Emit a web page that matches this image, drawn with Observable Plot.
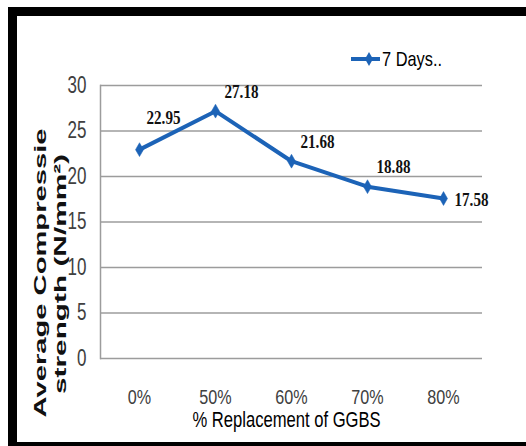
<!DOCTYPE html>
<html>
<head>
<meta charset="utf-8">
<script src="https://cdn.jsdelivr.net/npm/d3@7"></script>
<script src="https://cdn.jsdelivr.net/npm/@observablehq/plot@0.6"></script>
<style>
  html, body { margin: 0; padding: 0; background: #fff; overflow: hidden; }
  #wrap { position: relative; width: 526px; height: 446px; overflow: hidden; background: #fff; }
  #frame { position: absolute; left: 8px; top: 7px; width: 700px; height: 426px;
           border-left: 9px solid #000; border-top: 9px solid #000; border-bottom: 9px solid #000; }
  #chart { position: absolute; left: 0; top: 0; }
  #legend { position: absolute; left: 348px; top: 46px; }
</style>
</head>
<body>
<div id="wrap">
  <div id="frame"></div>
  <div id="chart"></div>
  <div id="legend"></div>
</div>
<script>
// ---- data ----
const categories = ["0%", "50%", "60%", "70%", "80%"];
const strength = [22.95, 27.18, 21.68, 18.88, 17.58];
const yTicks = [0, 5, 10, 15, 20, 25, 30];
const seriesName = "7 Days..";
const yTitleLines = ["Average Compressie", "strength (N/mm²)"];
const xTitle = "% Replacement of GGBS";

const data = categories.map((c, i) => ({cat: c, value: strength[i], label: strength[i].toFixed(2), i}));
const blue = "#1c63b7";
const sans = "'Liberation Sans', Arial, sans-serif";
const serif = "'Liberation Serif', 'Times New Roman', serif";

const chart = Plot.plot({
  width: 526,
  height: 446,
  marginLeft: 100,
  marginRight: 44,
  marginTop: 85,
  marginBottom: 88,
  style: {background: "transparent", fontFamily: sans, overflow: "visible"},
  x: {type: "point", domain: categories, padding: 0.5},
  y: {domain: [0, 30]},
  marks: [
    Plot.ruleY(yTicks, {stroke: "#9c9c9c", strokeWidth: 1.5}),
    Plot.frame({anchor: "left", stroke: "#9c9c9c", strokeWidth: 1.5}),
    Plot.axisY({ticks: yTicks, tickSize: 0, tickPadding: 14, fontSize: 23, fill: "#404040", label: null, className: "yticks"}),
    Plot.axisX({tickSize: 0, tickPadding: 31, fontSize: 21, fill: "#404040", label: null, className: "xticks"}),
    Plot.line(data, {x: "cat", y: "value", stroke: blue, strokeWidth: 4}),
    Plot.dot(data, {x: "cat", y: "value", symbol: "diamond", r: 4.2, fill: blue, stroke: blue, strokeWidth: 0.5}),
    Plot.text(data.filter(d => d.i === 0), {x: "cat", y: "value", text: "label", textAnchor: "start", dx: 7, dy: -31,
      fontFamily: serif, fontSize: 18, fontWeight: "bold", fill: "#111", className: "vlabels"}),
    Plot.text(data.filter(d => d.i > 0 && d.i < 4), {x: "cat", y: "value", text: "label", textAnchor: "start", dx: 9, dy: -19,
      fontFamily: serif, fontSize: 18, fontWeight: "bold", fill: "#111", className: "vlabels"}),
    Plot.text(data.filter(d => d.i === 4), {x: "cat", y: "value", text: "label", textAnchor: "start", dx: 11, dy: 2,
      fontFamily: serif, fontSize: 18, fontWeight: "bold", fill: "#111", className: "vlabels"}),
    Plot.text([yTitleLines[0]], {frameAnchor: "left", textAnchor: "middle", dx: -60, dy: 51, rotate: -90, fontFamily: sans,
      fontSize: 17, fontWeight: "bold", fill: "#111", className: "ytitle1"}),
    Plot.text([yTitleLines[1]], {frameAnchor: "left", textAnchor: "middle", dx: -40, dy: 52, rotate: -90, fontFamily: sans,
      fontSize: 17, fontWeight: "bold", fill: "#111", className: "ytitle2"}),
    Plot.text([xTitle], {frameAnchor: "bottom", textAnchor: "middle", dx: -5, dy: 68, fontSize: 22, fill: "#000", className: "xtitle"})
  ]
});
document.getElementById("chart").appendChild(chart);

// horizontal squeeze along each text's baseline, keeping its anchor in place
function squeeze(selection, k) {
  selection.each(function () {
    const kk = typeof k === "function" ? k(this) : k;
    const tr = this.getAttribute("transform") || "";
    this.setAttribute("transform", `${tr} scale(${kk},1)`);
  });
}
const svg = d3.select(chart);
squeeze(svg.selectAll(".vlabels text"), 0.84);
squeeze(svg.selectAll(".yticks text"), 0.74);
squeeze(svg.selectAll(".xticks text"), 0.77);
squeeze(svg.selectAll(".xtitle text"), 0.755);
squeeze(svg.selectAll(".ytitle1 text"), el => 289 / el.getComputedTextLength());
squeeze(svg.selectAll(".ytitle2 text"), el => 240 / el.getComputedTextLength());

// ---- legend ----
const leg = d3.select("#legend").append("svg").attr("width", 110).attr("height", 30);
leg.append("line").attr("x1", 3).attr("x2", 32).attr("y1", 13).attr("y2", 13)
  .attr("stroke", blue).attr("stroke-width", 4);
leg.append("path").attr("d", d3.symbol(d3.symbolDiamond, 55)()).attr("transform", "translate(21,13)").attr("fill", blue);
leg.append("text").attr("transform", "translate(34,13) scale(0.82,1)").attr("dy", "0.36em")
  .attr("font-family", sans).attr("font-size", 20).attr("fill", "#000")
  .text(seriesName);
</script>
</body>
</html>
